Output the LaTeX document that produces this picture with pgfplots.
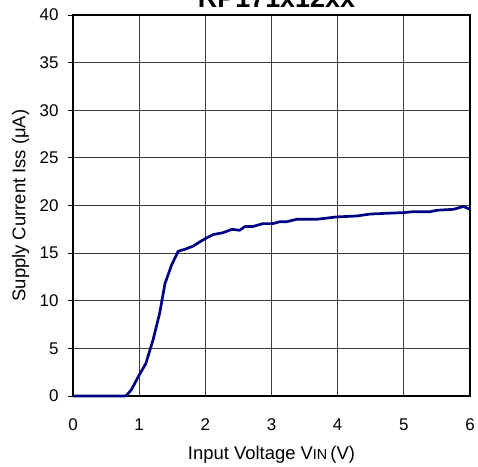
\documentclass[border=0pt]{standalone}
\usepackage{pgfplots}
\pgfplotsset{compat=1.18}
\usepackage{fontspec}
\setmainfont{Liberation Sans}
\definecolor{curveblue}{RGB}{0,0,132}
\definecolor{gridgray}{RGB}{60,60,60}

\begin{document}
\begin{tikzpicture}
\begin{axis}[
  scale only axis,
  width=397bp, height=381bp,
  xmin=0, xmax=6, ymin=0, ymax=40,
  xtick={0,1,...,6}, ytick={0,5,...,40},
  grid=major,
  grid style={gridgray, line width=1pt},
  axis line style={black, line width=1.2pt},
  tick align=outside,
  ytick pos=left, xtick pos=bottom,
  xtick style={draw=none},
  ytick style={black, line width=1pt},
  major tick length=5bp,
  /pgf/number format/assume math mode=true,
  ticklabel style={font=\fontsize{17}{20}\selectfont},
  xticklabel style={yshift=-14bp},
  yticklabel style={xshift=-6bp},
  xlabel={Input Voltage V{\fontsize{14.5}{16}\selectfont IN}\,(V)},
  ylabel={Supply Current Iss (μA)},
  label style={font=\fontsize{18.5}{21}\selectfont},
  xlabel style={yshift=-8.5bp},
  ylabel style={yshift=3.5bp},
  clip=false,
]
\addplot[curveblue, line width=2.7pt, line join=round] coordinates {
  (0,0) (0.2,0) (0.4,0) (0.6,0) (0.8,0)
  (0.88,0.63) (1.0,2.2) (1.1,3.4) (1.21,5.9) (1.31,8.7)
  (1.39,11.8) (1.49,13.75) (1.59,15.2) (1.69,15.4) (1.82,15.75)
  (1.92,16.2) (2.02,16.6) (2.12,16.95) (2.27,17.15) (2.40,17.5)
  (2.52,17.4) (2.6,17.8) (2.72,17.8) (2.87,18.1) (3.02,18.1)
  (3.13,18.3) (3.23,18.3) (3.38,18.55) (3.68,18.55) (3.98,18.8)
  (4.29,18.9) (4.49,19.1) (4.79,19.2) (4.99,19.25) (5.14,19.35)
  (5.4,19.35) (5.5,19.5) (5.75,19.6) (5.9,19.9) (6.0,19.6)
};
% chart title, set just above the plot frame
\node[anchor=base, inner sep=0pt, xshift=5bp, yshift=7bp,
      font=\fontsize{27}{30}\selectfont\bfseries]
  at (rel axis cs:0.5,1) {RP171x12xx};
\coordinate (sw) at (rel axis cs:0,0);
\coordinate (ne) at (rel axis cs:1,1);
\end{axis}
\pgfresetboundingbox
\useasboundingbox ([xshift=-73bp,yshift=-70bp]sw) rectangle ([xshift=8bp,yshift=15bp]ne);
\end{tikzpicture}
\end{document}
